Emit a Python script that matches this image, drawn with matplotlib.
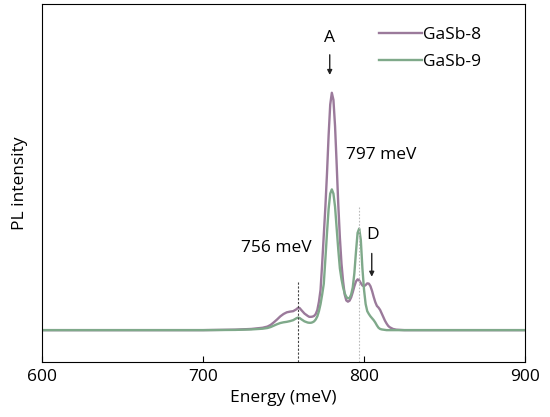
import matplotlib
matplotlib.use("Agg")
import matplotlib.pyplot as plt

plt.rcParams['font.family'] = ['Open Sans', 'DejaVu Sans']

# energy grid (meV), denser around the peaks
energy = [600, 650, 700, 720, 730, 737, 740, 742, 744, 746, 748, 750, 752, 754, 756, 758,
          759, 760, 761, 763, 765, 766, 767, 768, 769, 770, 771, 772, 773, 774, 775, 776,
          777, 778, 779, 780, 781, 782, 783, 784, 785, 786, 787, 788, 789, 790, 791, 792,
          793, 794, 795, 796, 797, 798, 799, 800, 801, 802, 803, 804, 805, 806, 807, 808,
          809, 810, 811, 812, 813, 814, 815, 816, 818, 820, 825, 850, 900]

# GaSb-8 (purple), normalised to its main peak
gasb8 = [0.0, 0.0, 0.0, 0.002, 0.005, 0.01, 0.015, 0.022, 0.033, 0.045, 0.058, 0.068, 0.075, 0.078, 0.08, 0.088,
         0.094, 0.093, 0.085, 0.07, 0.06, 0.056, 0.056, 0.057, 0.06, 0.068, 0.085, 0.12, 0.17, 0.28, 0.4, 0.52,
         0.66, 0.82, 0.95, 1.0, 0.97, 0.86, 0.7, 0.53, 0.39, 0.28, 0.205, 0.15, 0.125, 0.12, 0.124, 0.138,
         0.16, 0.185, 0.205, 0.214, 0.21, 0.198, 0.188, 0.185, 0.19, 0.197, 0.196, 0.185, 0.165, 0.14, 0.118, 0.102,
         0.095, 0.085, 0.07, 0.055, 0.04, 0.028, 0.018, 0.012, 0.005, 0.002, 0.0, 0.0, 0.0]

# GaSb-9 (green)
gasb9 = [0.0, 0.0, 0.0, 0.001, 0.003, 0.006, 0.009, 0.013, 0.019, 0.025, 0.03, 0.033, 0.035, 0.038, 0.042, 0.05,
         0.053, 0.051, 0.046, 0.037, 0.032, 0.031, 0.031, 0.033, 0.037, 0.045, 0.058, 0.08, 0.11, 0.15, 0.195, 0.3,
         0.41, 0.51, 0.575, 0.593, 0.575, 0.52, 0.43, 0.34, 0.26, 0.215, 0.18, 0.155, 0.14, 0.134, 0.135, 0.15,
         0.18, 0.24, 0.33, 0.41, 0.428, 0.38, 0.26, 0.17, 0.11, 0.08, 0.068, 0.058, 0.05, 0.042, 0.032, 0.02,
         0.01, 0.005, 0.003, 0.002, 0.001, 0.0, 0.0, 0.0, 0.0, 0.0, 0.0, 0.0, 0.0]

xticks = [600, 700, 800, 900]

fig = plt.figure(figsize=(5.5, 4.17), dpi=100)
ax = fig.add_axes([0.0764, 0.1326, 0.8782, 0.8578])

ax.plot(energy, gasb8, color="#9b7a9b", lw=1.7, label="GaSb-8")
ax.plot(energy, gasb9, color="#7fa98a", lw=1.7, label="GaSb-9")

# marker lines at 756 and 797 meV
ax.plot([758.7, 758.7], [-0.133, 0.204], color="#444444", lw=0.8, ls=(0, (2, 1.5)))
ax.plot([796.9, 796.9], [-0.133, 0.52], color="#bbbbbb", lw=0.8, ls=(0, (1.5, 1.5)))

arrow = dict(arrowstyle="-|>", color="#222222", lw=1, mutation_scale=7,
             shrinkA=0, shrinkB=0)
ax.annotate("", xy=(778.7, 1.075), xytext=(778.7, 1.16), arrowprops=arrow)
ax.annotate("", xy=(804.8, 0.225), xytext=(804.8, 0.323), arrowprops=arrow)

fs = 12.5
ax.text(778.3, 1.229, "A", ha="center", va="center", fontsize=fs)
ax.text(805.6, 0.40, "D", ha="center", va="center", fontsize=fs)
ax.text(788.5, 0.737, "797 meV", ha="left", va="center", fontsize=fs)
ax.text(767.4, 0.348, "756 meV", ha="right", va="center", fontsize=fs)

ax.legend(loc="upper left", bbox_to_anchor=(0.68, 0.96), frameon=False,
          handlelength=2.45, handletextpad=0.1, labelspacing=0.62, borderpad=0,
          fontsize=fs)

ax.set_xlim(600, 900)
ax.set_ylim(-0.133, 1.374)
ax.set_xticks(xticks)
ax.set_yticks([])
ax.tick_params(axis="x", direction="in", length=4, labelsize=fs, pad=5)
ax.set_xlabel("Energy (meV)", fontsize=fs, labelpad=4)
ax.set_ylabel("PL intensity", fontsize=fs, labelpad=10)

plt.savefig("out.png", dpi=100)
